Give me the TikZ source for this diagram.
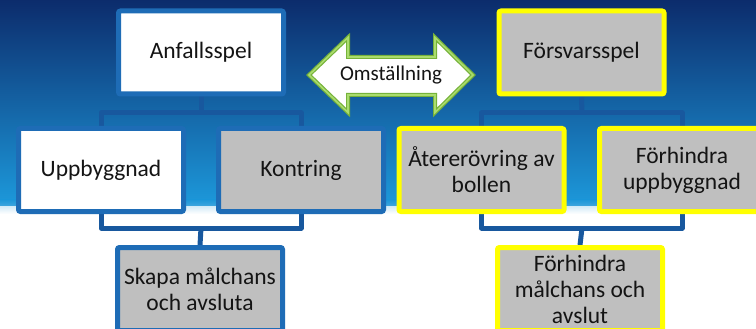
\documentclass[tikz,border=0pt]{standalone}
\usepackage{fontspec}
\setmainfont{Carlito}
\usetikzlibrary{calc}
\pgfdeclarelayer{bg}
\pgfdeclarelayer{links}
\pgfsetlayers{bg,links,main}
\definecolor{bgtop}{RGB}{12,44,108}
\definecolor{bgbot}{RGB}{28,150,216}
\definecolor{boxblue}{RGB}{30,108,182}
\definecolor{linkblue}{RGB}{24,88,158}
\definecolor{boxgray}{RGB}{191,191,191}
\definecolor{yel}{RGB}{255,255,0}
\definecolor{grdark}{RGB}{118,178,58}
\definecolor{grlight}{RGB}{170,220,110}
\definecolor{txt}{RGB}{20,20,20}
\tikzset{
  box/.style={draw, line width=5pt, rounded corners=2pt, minimum width=165pt,
    minimum height=83pt, align=center, text=txt, inner sep=2pt,
    font=\fontsize{23.5}{26}\selectfont},
  attackbox/.style={box, draw=boxblue, fill=white},
  attackgray/.style={box, draw=boxblue, fill=boxgray},
  defbox/.style={box, draw=yel, fill=boxgray},
  link/.style={draw=linkblue, line width=5pt, line join=round},
  arrowedge/.style={line join=miter},
}
\begin{document}
\begin{tikzpicture}[x=1pt,y=-1pt]
\useasboundingbox (0,0) rectangle (756,329);
% background
\begin{pgfonlayer}{bg}
\fill[white] (0,0) rectangle (756,329);
\shade[top color=bgtop, bottom color=bgbot] (0,0) rectangle (756,200);
\shade[top color=bgbot, bottom color=bgbot!85!white] (0,199.5) rectangle (756,206);
\shade[top color=bgbot!20!white, bottom color=white] (0,206) rectangle (756,214);
\end{pgfonlayer}

% boxes
\node[attackbox] (anf) at (201,52.5) {Anfallsspel};
\node[defbox] (fors) at (581.5,52.5) {Försvarsspel};
\node[attackbox] (upp) at (101,170) {Uppbyggnad};
\node[attackgray] (kon) at (301,170) {Kontring};
\node[defbox] (ater) at (481.5,170) {Återerövring av\\bollen};
\node[defbox] (forupp) at (682,170) {Förhindra\\uppbyggnad};
\node[attackgray] (skapa) at (200,289) {Skapa målchans\\och avsluta};
\node[defbox] (formal) at (580,289) {Förhindra\\målchans och\\avslut};

% connector junctions
\coordinate (j1) at (201,113);
\coordinate (j2) at (201,228);
\coordinate (j3) at (582,113);
\coordinate (j4) at (582,228);

% connectors
\begin{pgfonlayer}{links}
\draw[link] (anf.south) -- (j1);
\draw[link] (upp.north) |- (j1) -| (kon.north);
\draw[link] (upp.south) |- (j2) -| (kon.south);
\draw[link] (j2) -- (skapa.north);
\draw[link] (fors.south) -- (j3);
\draw[link] (ater.north) |- (j3) -| (forupp.north);
\draw[link] (ater.south) |- (j4) -| (forupp.south);
\draw[link] (j4) -- (formal.north);
\end{pgfonlayer}

% double arrow
\coordinate (tl) at (309,75);
\coordinate (tr) at (473,75);
\path[arrowedge, fill=white, draw=grdark, line width=4pt]
  (tl) -- (348,37.5) -- (348,57) -- (435,57) -- (435,37.5) -- (tr)
  -- (435,112.5) -- (435,95) -- (348,95) -- (348,112.5) -- cycle;
\path[arrowedge, draw=grlight, line width=1.6pt]
  (tl) -- (348,37.5) -- (348,57) -- (435,57) -- (435,37.5) -- (tr)
  -- (435,112.5) -- (435,95) -- (348,95) -- (348,112.5) -- cycle;
\node[text=txt, font=\fontsize{21}{24}\selectfont] (oms) at ($(tl)!0.5!(tr)$) {Omställning};
\end{tikzpicture}
\end{document}
